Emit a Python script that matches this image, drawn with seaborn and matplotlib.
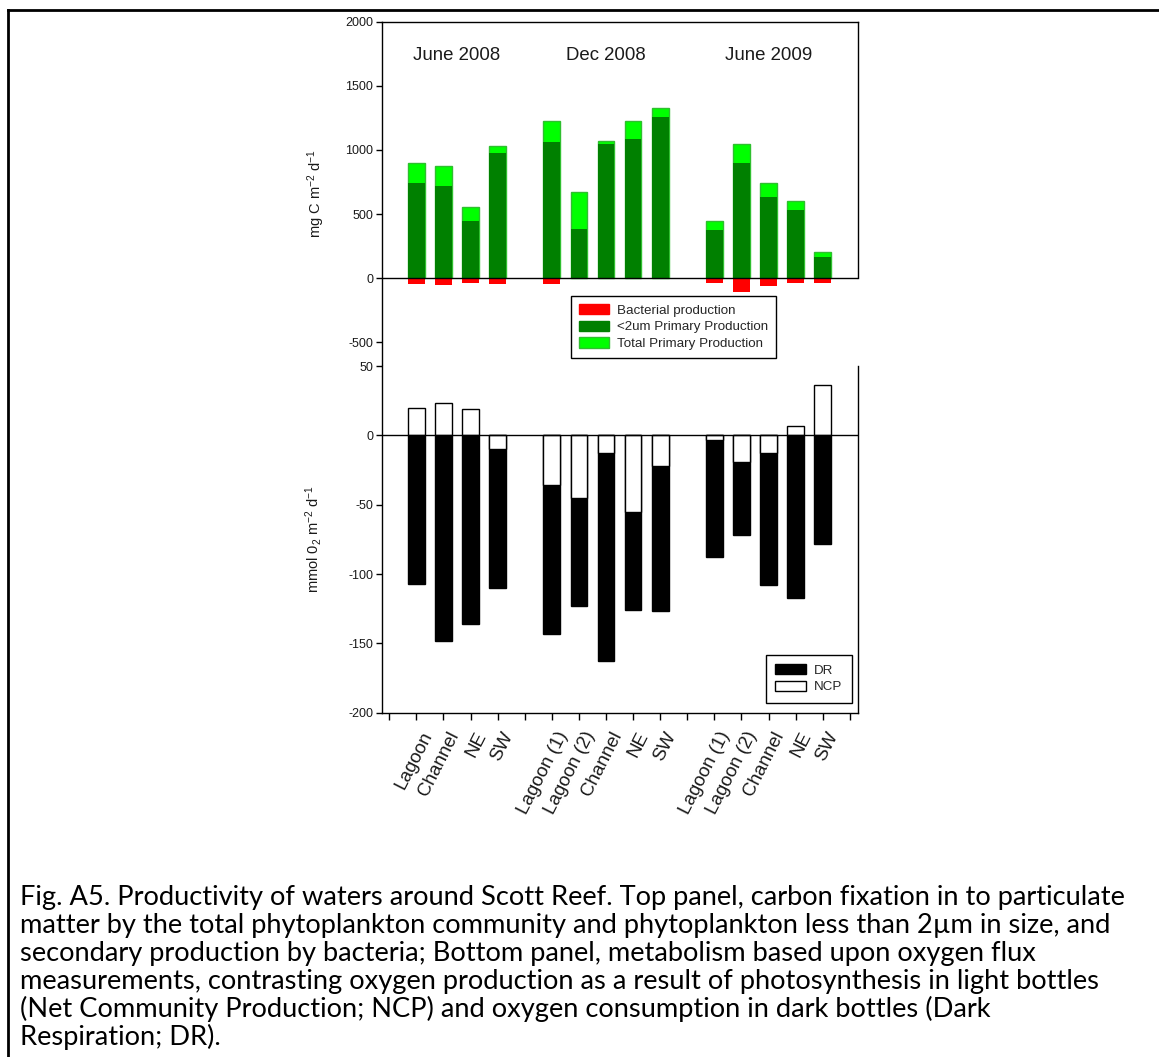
import matplotlib
matplotlib.use("Agg")
import matplotlib.pyplot as plt
import matplotlib.transforms as mtransforms
from matplotlib.patches import Patch
from matplotlib.lines import Line2D
import numpy as np
import pandas as pd
import seaborn as sns

# ---- data -------------------------------------------------------------
campaigns = ["June 2008", "Dec 2008", "June 2009"]
sites_jun08 = ["Lagoon", "Channel", "NE", "SW"]
sites_dec08 = ["Lagoon (1)", "Lagoon (2)", "Channel", "NE", "SW"]
sites_jun09 = ["Lagoon (1)", "Lagoon (2)", "Channel", "NE", "SW"]

# carbon fixation, mg C m-2 d-1
total_pp = [901, 873, 551, 1029, 1229, 668, 1070, 1223, 1330, 447, 1049, 745, 603, 200]
small_pp = [743, 722, 447, 977, 1060, 384, 1047, 1088, 1257, 374, 896, 629, 530, 161]
bacterial = [-44, -57, -36, -44, -47, 0, 0, 0, 0, -42, -109, -62, -36, -36]

# oxygen metabolism, mmol O2 m-2 d-1
dark_resp = [-107, -148, -136, -110, -143, -123, -163, -126, -127, -88, -72, -108, -117, -78]
ncp = [20, 23, 19, -10, -36, -45, -13, -55, -22, -3.5, -19, -13, 7, 36]

caption_lines = [
    "Fig. A5. Productivity of waters around Scott Reef. Top panel, carbon fixation in to particulate",
    "matter by the total phytoplankton community and phytoplankton less than 2\u00b5m in size, and",
    "secondary production by bacteria; Bottom panel, metabolism based upon oxygen flux",
    "measurements, contrasting oxygen production as a result of photosynthesis in light bottles",
    "(Net Community Production; NCP) and oxygen consumption in dark bottles (Dark",
    "Respiration; DR).",
]

# ---- layout of bar slots: one empty slot before/between/after campaigns ----
groups = [sites_jun08, sites_dec08, sites_jun09]
positions, tick_labels, centers = [], [""], []
p = 1
for g in groups:
    start = p
    for s in g:
        positions.append(p)
        tick_labels.append(s)
        p += 1
    centers.append((start + p - 1) / 2)
    tick_labels.append("")
    p += 1
n_slots = p  # ticks 0 .. n_slots-1

df = pd.DataFrame({
    "pos": positions,
    "total": total_pp,
    "small": small_pp,
    "bact": bacterial,
    "dr": dark_resp,
    "ncp": ncp,
})

# ---- style --------------------------------------------------------------
sns.set_theme(style="white")
plt.rcParams["font.family"] = ["Liberation Sans", "DejaVu Sans"]
plt.rcParams["mathtext.fontset"] = "custom"
plt.rcParams["mathtext.rm"] = "Liberation Sans"
plt.rcParams["mathtext.it"] = "Liberation Sans:italic"
plt.rcParams["mathtext.bf"] = "Liberation Sans:bold"
plt.rcParams["axes.edgecolor"] = "black"
plt.rcParams["axes.linewidth"] = 1.0
plt.rcParams["axes.unicode_minus"] = False

W, H = 1159, 1057
fig = plt.figure(figsize=(W / 100, H / 100), dpi=100)
fig.patch.set_facecolor("white")

ax1 = fig.add_axes([0.3293, 0.6537, 0.4112, 0.3257])
ax2 = fig.add_axes([0.3293, 0.3257, 0.4112, 0.3280])

RED = "#ff0000"
DKGREEN = "#008000"
LTGREEN = "#00ff00"
LTEDGE = "#2fbf2f"
TXT = "#1a1a1a"
bw = 0.62

# ---- top panel: carbon fixation ----------------------------------------
sns.barplot(data=df, x="pos", y="total", native_scale=True, color=LTGREEN,
            saturation=1, width=bw, edgecolor=LTEDGE, linewidth=1.0,
            errorbar=None, ax=ax1)
sns.barplot(data=df, x="pos", y="small", native_scale=True, color=DKGREEN,
            saturation=1, width=bw, linewidth=0, errorbar=None, ax=ax1)
sns.barplot(data=df, x="pos", y="bact", native_scale=True, color=RED,
            saturation=1, width=bw, linewidth=0, errorbar=None, ax=ax1)
ax1.axhline(0, color="black", lw=1.0, zorder=5)

ax1.set_xlim(-0.28, n_slots - 1 + 0.31)
ax1.set_ylim(-686, 2000)
ax1.set_yticks([-500, 0, 500, 1000, 1500, 2000])
ax1.set_xlabel("")
ax1.set_ylabel("mg C m$^{\\mathregular{-2}}$ d$^{\\mathregular{-1}}$",
               fontsize=10.5, color=TXT)
ax1.yaxis.set_label_coords(-0.115, 0.5)
ax1.tick_params(axis="y", direction="out", length=4, width=1, labelsize=9,
                pad=2, colors="black", labelcolor=TXT, left=True)
ax1.tick_params(axis="x", bottom=False, labelbottom=False)
ax1.spines["bottom"].set_visible(False)
ax1.spines["right"].set_bounds(0, 2000)
for c, name in zip(centers, campaigns):
    ax1.text(c, 1740, name, ha="center", va="center", fontsize=13.4, color=TXT)

leg1 = ax1.legend(
    handles=[
        Patch(facecolor=RED, edgecolor=RED, label="Bacterial production"),
        Patch(facecolor=DKGREEN, edgecolor=DKGREEN, label="<2um Primary Production"),
        Patch(facecolor=LTGREEN, edgecolor=LTEDGE, label="Total Primary Production"),
    ],
    loc="upper left", bbox_to_anchor=(0.397, 0.2035), borderaxespad=0,
    fontsize=9.6, frameon=True, fancybox=False, edgecolor="black",
    framealpha=1, handlelength=2.25, handleheight=0.8, labelspacing=0.3,
    borderpad=0.6, handletextpad=0.6,
)
leg1.get_frame().set_linewidth(1.0)

# ---- bottom panel: oxygen metabolism ------------------------------------
sns.barplot(data=df, x="pos", y="dr", native_scale=True, color="black",
            saturation=1, width=bw, edgecolor="black", linewidth=1.0,
            errorbar=None, ax=ax2)
sns.barplot(data=df, x="pos", y="ncp", native_scale=True, color="white",
            saturation=1, width=bw, edgecolor="black", linewidth=1.0,
            errorbar=None, ax=ax2)
ax2.axhline(0, color="black", lw=1.0, zorder=5)

ax2.set_xlim(-0.28, n_slots - 1 + 0.31)
ax2.set_ylim(-200, 50)
ax2.set_yticks([-200, -150, -100, -50, 0, 50])
ax2.set_xlabel("")
ax2.set_ylabel("mmol 0$_{\\mathregular{2}}$ m$^{\\mathregular{-2}}$ d$^{\\mathregular{-1}}$",
               fontsize=10.5, color=TXT)
ax2.yaxis.set_label_coords(-0.12, 0.5)
ax2.spines["top"].set_visible(False)
ax2.tick_params(axis="y", direction="out", length=4, width=1, labelsize=9,
                pad=2, colors="black", labelcolor=TXT, left=True)
ax2.set_xticks(range(n_slots))
ax2.set_xticklabels(tick_labels, rotation=63, ha="right", va="top",
                    rotation_mode="anchor", fontsize=13.5)
ax2.tick_params(axis="x", direction="out", length=5, width=1, pad=6.5,
                colors="black", labelcolor=TXT, bottom=True)
shift = mtransforms.ScaledTranslation(4 / 100, 0, fig.dpi_scale_trans)
for lab in ax2.get_xticklabels():
    lab.set_transform(lab.get_transform() + shift)

leg2 = ax2.legend(
    handles=[
        Patch(facecolor="black", edgecolor="black", label="DR"),
        Patch(facecolor="white", edgecolor="black", label="NCP"),
    ],
    loc="lower right", bbox_to_anchor=(0.986, 0.029), borderaxespad=0,
    fontsize=9.6, frameon=True, fancybox=False, edgecolor="black",
    framealpha=1, handlelength=2.3, handleheight=0.8, labelspacing=0.3,
    borderpad=0.7, handletextpad=0.6,
)
leg2.get_frame().set_linewidth(1.0)

# ---- frame and caption --------------------------------------------------
x0 = 7.5 / W
ytop = 1 - 9.5 / H
fig.add_artist(Line2D([x0, x0], [ytop, 0], transform=fig.transFigure,
                      color="black", lw=2.0, solid_capstyle="projecting"))
fig.add_artist(Line2D([x0, 1], [ytop, ytop], transform=fig.transFigure,
                      color="black", lw=2.0, solid_capstyle="projecting"))

cap_texts = []
for i, line in enumerate(caption_lines):
    yb = 905 + 28 * i
    t = fig.text(20 / W, 1 - yb / H, line, ha="left", va="baseline",
                 fontsize=16, family=["Lato", "DejaVu Sans"], color="black")
    cap_texts.append(t)
fig.canvas.draw()
renderer = fig.canvas.get_renderer()
w0 = cap_texts[0].get_window_extent(renderer).width
scale = (1133 - 20) / w0
for t in cap_texts:
    t.set_fontsize(16 * scale)

fig.savefig("out.png", dpi=100, facecolor="white")
